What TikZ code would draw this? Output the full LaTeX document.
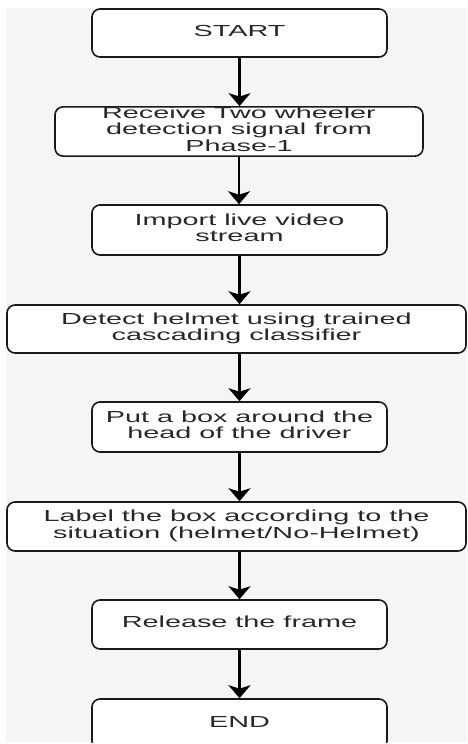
\documentclass[tikz,border=0pt]{standalone}
\usepackage{graphicx}
\usepackage{fontspec}
\setmainfont{Liberation Sans}
\usetikzlibrary{arrows.meta}
\definecolor{canvas}{RGB}{245,245,245}
\definecolor{ink}{RGB}{40,40,40}
% wide-set, centred multi-line label
\newcommand{\widetext}[1]{\scalebox{1.8}[1]{\begin{tabular}{@{}c@{}}#1\end{tabular}}}
\tikzset{
  stepbox/.style={rectangle, draw=black!90, line width=1.6pt, fill=white,
    rounded corners=8pt, inner sep=0pt, text=ink,
    font=\fontsize{16}{16}\selectfont},
  flow/.style={draw=black, line width=2.2pt,
    -{Stealth[width=22pt,length=13pt,inset=3.5pt]}}
}
\begin{document}
\begin{tikzpicture}[x=1pt,y=-1pt]
\useasboundingbox (0,0) rectangle (467,744);
\fill[white] (0,0) rectangle (467,744);
\begin{scope}
\clip (6,8) rectangle (467,742);
\fill[canvas] (6,8) rectangle (467,742);

\node[stepbox, minimum width=295pt, minimum height=48pt] (b1) at (239.5,33)
  {\widetext{START}};
\node[stepbox, minimum width=368pt, minimum height=49pt] (b2) at (239,131.5)
  {\widetext{Receive Two wheeler\\detection signal from\\Phase-1}};
\node[stepbox, minimum width=295pt, minimum height=50pt] (b3) at (239.5,230)
  {\widetext{Import live video\\stream}};
\node[stepbox, minimum width=459pt, minimum height=48pt] (b4) at (236.5,329)
  {\widetext{Detect helmet using trained\\cascading classifier}};
\node[stepbox, minimum width=295pt, minimum height=50pt] (b5) at (239.5,427)
  {\widetext{Put a box around the\\head of the driver}};
\node[stepbox, minimum width=459pt, minimum height=49pt] (b6) at (236.5,526.5)
  {\widetext{Label the box according to the\\situation (helmet/No-Helmet)}};
\node[stepbox, minimum width=295pt, minimum height=49pt] (b7) at (239.5,624.5)
  {\widetext{Release the frame}};
\node[stepbox, minimum width=295pt, minimum height=50pt] (b8) at (239.5,724)
  {\widetext{END}};

\draw[flow] (b1.south) -- (b1.south |- b2.north);
\draw[flow] (b2.south) -- (b2.south |- b3.north);
\draw[flow] (b3.south) -- (b3.south |- b4.north);
\draw[flow] (b4.south -| b5.north) -- (b5.north);
\draw[flow] (b5.south) -- (b5.south |- b6.north);
\draw[flow] (b6.south -| b7.north) -- (b7.north);
\draw[flow] (b7.south) -- (b7.south |- b8.north);
\end{scope}
\end{tikzpicture}
\end{document}
